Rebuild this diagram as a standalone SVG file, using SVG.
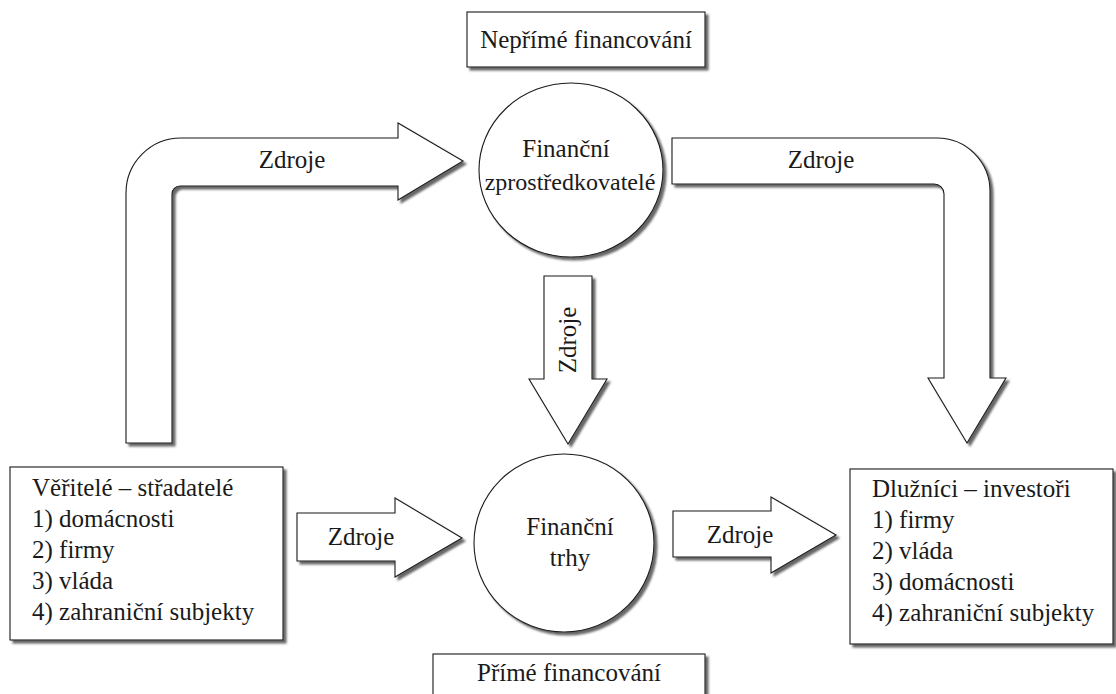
<svg xmlns="http://www.w3.org/2000/svg" width="1116" height="694" viewBox="0 0 1116 694">
<defs>
<filter id="sh" x="-10%" y="-10%" width="130%" height="130%">
<feDropShadow dx="3" dy="3" stdDeviation="0.8" flood-color="#666" flood-opacity="1"/>
</filter>
</defs>
<style>
.s{fill:#fff;stroke:#1a1a1a;stroke-width:1.1;filter:url(#sh)}
text{font-family:"Liberation Serif","Times New Roman",Tinos,"DejaVu Serif",serif;font-size:25px;fill:#1a1a1a}
.c{text-anchor:middle}
.sm{font-size:24px}
</style>
<rect width="1116" height="694" fill="#fff"/>
<g id="connectors">
<g id="arrow-top-left">
<path class="s" d="M126,443 L126,193 A55,55 0 0 1 181,138 L398,138 L398,123 L463,161 L398,200 L398,186 L180,186 A8,8 0 0 0 172,194 L172,443 Z"/>
<text class="c" x="292" y="168">Zdroje</text>
</g>
<g id="arrow-top-right">
<path class="s" d="M672,138 L937,138 A53,53 0 0 1 990,191 L990,378 L1006,378 L967,443 L928,378 L944,378 L944,194 A10,10 0 0 0 934,184 L672,184 Z"/>
<text class="c" x="821" y="168">Zdroje</text>
</g>
<g id="arrow-middle">
<path class="s" d="M544,276 L592,276 L592,379 L607,379 L568,444 L529,379 L544,379 Z"/>
<text class="c" transform="translate(576,340) rotate(-90)" x="0" y="0">Zdroje</text>
</g>
<g id="arrow-bottom-left">
<path class="s" d="M297,513 L395,513 L395,498 L462,538 L395,577 L395,561 L297,561 Z"/>
<text class="c" x="361" y="545">Zdroje</text>
</g>
<g id="arrow-bottom-right">
<path class="s" d="M673,511 L771,511 L771,497 L836,535 L771,573 L771,557 L673,557 Z"/>
<text class="c" x="740" y="543">Zdroje</text>
</g>
</g>
<g id="node-neprime">
<rect class="s" x="467" y="12" width="238" height="55"/>
<text class="c" x="586" y="48">Nepřímé financování</text>
</g>
<g id="node-zprostredkovatele">
<ellipse class="s" cx="571" cy="170" rx="92" ry="87"/>
<text class="c" x="566" y="157">Finanční</text>
<text class="c sm" x="570" y="190">zprostředkovatelé</text>
</g>
<g id="node-trhy">
<ellipse class="s" cx="564" cy="543" rx="90" ry="89"/>
<text class="c" x="570" y="535">Finanční</text>
<text class="c" x="570" y="566">trhy</text>
</g>
<g id="node-veritele">
<rect class="s" x="10" y="467" width="273" height="173"/>
<text x="32" y="496">Věřitelé – střadatelé</text>
<text x="32" y="527">1) domácnosti</text>
<text x="32" y="558">2) firmy</text>
<text x="32" y="589">3) vláda</text>
<text x="32" y="620">4) zahraniční subjekty</text>
</g>
<g id="node-dluznici">
<rect class="s" x="850" y="469" width="263" height="175"/>
<text x="872" y="497">Dlužníci – investoři</text>
<text x="872" y="528">1) firmy</text>
<text x="872" y="559">2) vláda</text>
<text x="872" y="590">3) domácnosti</text>
<text x="872" y="621">4) zahraniční subjekty</text>
</g>
<g id="node-prime">
<rect class="s" x="433" y="654" width="272" height="60"/>
<text class="c" x="569" y="681">Přímé financování</text>
</g>
</svg>
